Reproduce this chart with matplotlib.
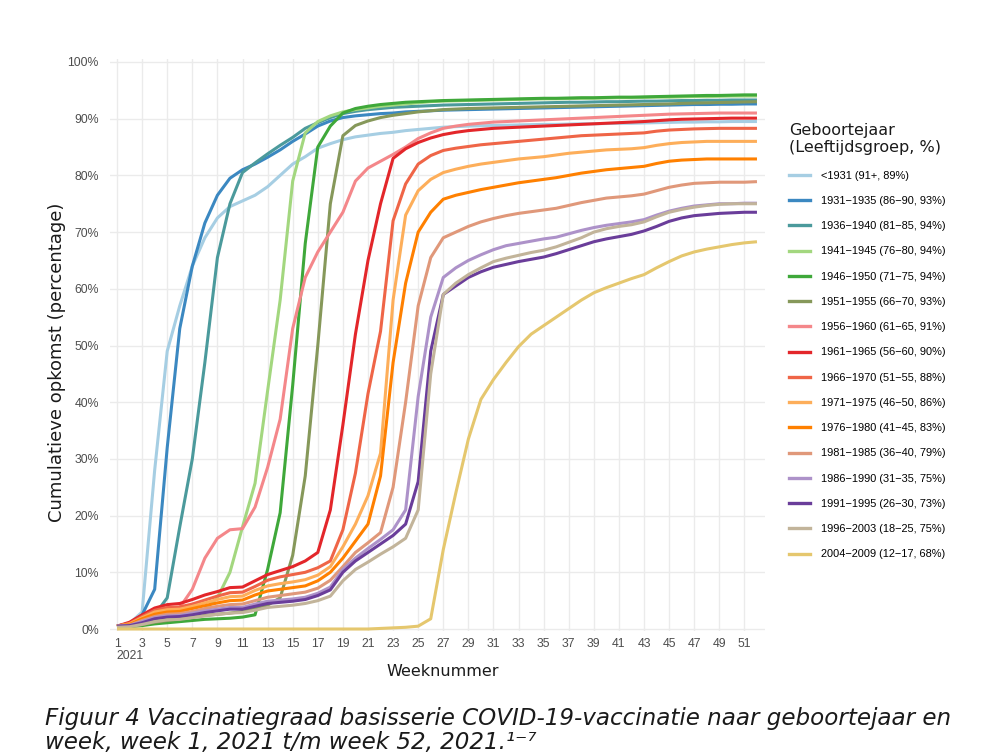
import matplotlib
matplotlib.use("Agg")
import matplotlib.pyplot as plt
from matplotlib.lines import Line2D

weeks = list(range(1, 53))

labels = [
    "<1931 (91+, 89%)",
    "1931\u22121935 (86\u221290, 93%)",
    "1936\u22121940 (81\u221285, 94%)",
    "1941\u22121945 (76\u221280, 94%)",
    "1946\u22121950 (71\u221275, 94%)",
    "1951\u22121955 (66\u221270, 93%)",
    "1956\u22121960 (61\u221265, 91%)",
    "1961\u22121965 (56\u221260, 90%)",
    "1966\u22121970 (51\u221255, 88%)",
    "1971\u22121975 (46\u221250, 86%)",
    "1976\u22121980 (41\u221245, 83%)",
    "1981\u22121985 (36\u221240, 79%)",
    "1986\u22121990 (31\u221235, 75%)",
    "1991\u22121995 (26\u221230, 73%)",
    "1996\u22122003 (18\u221225, 75%)",
    "2004\u22122009 (12\u221217, 68%)",
]

colors = ["#a6cee3", "#3b88c1", "#4b9a9c", "#a3d77f", "#3fa83a", "#86985a",
          "#f4878a", "#e3262a", "#ef6547", "#fdae5a", "#ff8000", "#e0987a",
          "#ad92c9", "#6a3d9a", "#c2b49a", "#e5c76e"]

v_pre1931 = [0.5, 1.0, 3.0, 28, 49, 57, 64, 69, 72.5, 74.5, 75.5, 76.5, 78, 80, 82, 83.3,
             84.8, 85.6, 86.3, 86.8, 87.1, 87.4, 87.6, 87.9, 88.1, 88.3, 88.5, 88.6, 88.7,
             88.75, 88.8, 88.85, 88.9, 88.95, 89.0, 89.0, 89.05, 89.1, 89.1, 89.15, 89.2,
             89.2, 89.25, 89.3, 89.35, 89.4, 89.4, 89.45, 89.45, 89.5, 89.5, 89.5]
v_1931 = [0.5, 1.0, 2.5, 7, 32, 53, 64, 71.6, 76.5, 79.5, 81, 82, 83.2, 84.5, 86, 87.3,
          88.7, 89.6, 90.2, 90.5, 90.7, 90.9, 91.0, 91.2, 91.3, 91.4, 91.5, 91.55, 91.6,
          91.65, 91.7, 91.75, 91.8, 91.85, 91.9, 91.95, 92.0, 92.05, 92.1, 92.15, 92.2,
          92.25, 92.3, 92.35, 92.4, 92.45, 92.5, 92.5, 92.55, 92.55, 92.6, 92.6]
v_1936 = [0.5, 0.8, 1.5, 2.5, 5.5, 18, 30, 47, 65.5, 75, 80.5, 82.2, 83.8, 85.3, 86.7, 88.3,
          89.3, 90.2, 90.9, 91.3, 91.6, 91.8, 92.0, 92.1, 92.2, 92.3, 92.4, 92.45, 92.5,
          92.55, 92.6, 92.65, 92.7, 92.75, 92.8, 92.85, 92.9, 92.9, 92.95, 93.0, 93.0,
          93.05, 93.1, 93.1, 93.15, 93.2, 93.2, 93.25, 93.25, 93.3, 93.3, 93.3]
v_1941 = [0.3, 0.5, 1.0, 1.5, 2.0, 2.4, 2.9, 3.5, 5.5, 10, 18, 25.7, 42, 58, 79, 87.5,
          89.5, 90.5, 91.2, 91.6, 91.9, 92.2, 92.4, 92.6, 92.8, 93.0, 93.1, 93.15, 93.2,
          93.25, 93.3, 93.35, 93.4, 93.45, 93.5, 93.5, 93.55, 93.6, 93.6, 93.65, 93.7,
          93.7, 93.75, 93.8, 93.8, 93.85, 93.9, 93.9, 93.95, 94.0, 94.0, 94.0]
v_1946 = [0.3, 0.4, 0.6, 0.9, 1.1, 1.3, 1.5, 1.7, 1.8, 1.9, 2.1, 2.5, 10.5, 20.5, 43, 68,
          85, 88.7, 91.0, 91.8, 92.2, 92.5, 92.7, 92.9, 93.0, 93.1, 93.2, 93.25, 93.3,
          93.35, 93.4, 93.45, 93.5, 93.55, 93.6, 93.6, 93.65, 93.7, 93.7, 93.75, 93.8,
          93.8, 93.85, 93.9, 93.95, 94.0, 94.05, 94.1, 94.1, 94.15, 94.2, 94.2]
v_1951 = [0.3, 0.5, 0.8, 1.2, 1.5, 1.8, 2.1, 2.4, 2.6, 2.8, 3.1, 3.8, 4.2, 5.5, 13, 27,
          50, 75, 87, 88.8, 89.6, 90.2, 90.6, 90.9, 91.2, 91.4, 91.6, 91.7, 91.8, 91.85,
          91.9, 91.95, 92.0, 92.05, 92.1, 92.15, 92.2, 92.25, 92.3, 92.35, 92.4, 92.45,
          92.5, 92.55, 92.6, 92.7, 92.75, 92.8, 92.85, 92.9, 92.95, 93.0]
v_1956 = [0.5, 1.0, 2.0, 3.0, 3.3, 3.8, 7, 12.5, 16, 17.5, 17.7, 21.5, 28.5, 37, 53, 62,
          66.5, 70, 73.5, 79, 81.3, 82.5, 83.7, 85, 86.5, 87.5, 88.3, 88.7, 89.0, 89.2,
          89.4, 89.5, 89.6, 89.7, 89.8, 89.9, 90.0, 90.1, 90.2, 90.3, 90.4, 90.5, 90.6,
          90.7, 90.8, 90.85, 90.9, 90.95, 91.0, 91.0, 91.0, 91.0]
v_1961 = [0.5, 1.2, 2.5, 3.7, 4.3, 4.5, 5.2, 6.0, 6.6, 7.3, 7.4, 8.5, 9.6, 10.3, 11.0, 12.0,
          13.5, 21, 36, 52, 65, 75, 83, 84.7, 85.8, 86.6, 87.2, 87.6, 87.9, 88.1, 88.3,
          88.4, 88.5, 88.6, 88.7, 88.8, 88.9, 89.0, 89.1, 89.2, 89.3, 89.4, 89.5, 89.65,
          89.8, 89.9, 89.95, 90.0, 90.05, 90.1, 90.1, 90.1]
v_1966 = [0.5, 1.0, 2.2, 3.3, 3.8, 3.9, 4.4, 5.1, 5.8, 6.4, 6.5, 7.5, 8.6, 9.2, 9.6, 10.0,
          10.8, 12, 17.5, 27.5, 41.5, 52.5, 72, 78.5, 82, 83.5, 84.4, 84.8, 85.1, 85.4,
          85.6, 85.8, 86.0, 86.2, 86.4, 86.6, 86.8, 87.0, 87.1, 87.2, 87.3, 87.4, 87.5,
          87.8, 88.0, 88.1, 88.2, 88.25, 88.3, 88.3, 88.3, 88.3]
v_1971 = [0.5, 0.9, 2.0, 3.0, 3.4, 3.5, 4.0, 4.6, 5.2, 5.7, 5.8, 6.8, 7.6, 8.0, 8.3, 8.7,
          9.5, 11, 14.5, 18.5, 23.5, 31, 58, 73, 77.3, 79.3, 80.5, 81.1, 81.6, 82.0, 82.3,
          82.6, 82.9, 83.1, 83.3, 83.6, 83.9, 84.1, 84.3, 84.5, 84.6, 84.7, 84.9, 85.3,
          85.6, 85.8, 85.9, 86.0, 86.0, 86.0, 86.0, 86.0]
v_1976 = [0.5, 0.8, 1.8, 2.6, 3.0, 3.1, 3.6, 4.1, 4.6, 5.0, 5.1, 6.0, 6.7, 7.0, 7.3, 7.6,
          8.5, 10, 12.5, 15.5, 18.5, 27, 47, 61, 70, 73.5, 75.8, 76.5, 77.0, 77.5, 77.9,
          78.3, 78.7, 79.0, 79.3, 79.6, 80.0, 80.4, 80.7, 81.0, 81.2, 81.4, 81.6, 82.1,
          82.5, 82.7, 82.8, 82.9, 82.9, 82.9, 82.9, 82.9]
v_1981 = [0.5, 0.7, 1.5, 2.2, 2.6, 2.7, 3.1, 3.6, 4.0, 4.3, 4.4, 5.0, 5.6, 5.9, 6.2, 6.5,
          7.2, 8.6, 11, 13.5, 15.2, 17, 25, 40, 57, 65.5, 69, 70, 71, 71.8, 72.4, 72.9,
          73.3, 73.6, 73.9, 74.2, 74.7, 75.2, 75.6, 76.0, 76.2, 76.4, 76.7, 77.3, 77.9,
          78.3, 78.6, 78.7, 78.8, 78.8, 78.8, 78.9]
v_1986 = [0.5, 0.6, 1.3, 2.0, 2.3, 2.4, 2.8, 3.2, 3.5, 3.8, 3.8, 4.4, 4.9, 5.1, 5.3, 5.6,
          6.3, 7.4, 10.5, 12.5, 14.2, 15.8, 17.5, 21, 41, 55, 62, 63.7, 65, 66, 66.9, 67.6,
          68.0, 68.4, 68.8, 69.1, 69.7, 70.3, 70.8, 71.2, 71.5, 71.8, 72.2, 73.0, 73.7,
          74.2, 74.6, 74.8, 75.0, 75.0, 75.1, 75.1]
v_1991 = [0.5, 0.6, 1.1, 1.8, 2.1, 2.2, 2.5, 2.9, 3.2, 3.5, 3.5, 4.0, 4.5, 4.7, 4.9, 5.2,
          5.9, 6.9, 10, 12, 13.5, 15, 16.5, 18.5, 26, 49, 59, 60.5, 62, 63, 63.8, 64.3,
          64.8, 65.2, 65.6, 66.2, 66.9, 67.6, 68.3, 68.8, 69.2, 69.6, 70.2, 71.0, 71.9,
          72.5, 72.9, 73.1, 73.3, 73.4, 73.5, 73.5]
v_1996 = [0.3, 0.4, 0.8, 1.3, 1.6, 1.7, 2.0, 2.3, 2.6, 2.8, 2.9, 3.3, 3.8, 4.0, 4.2, 4.5,
          5.0, 5.8, 8.5, 10.5, 11.8, 13.2, 14.5, 16, 21, 45, 59, 61, 62.5, 63.7, 64.8, 65.4,
          65.9, 66.4, 66.8, 67.4, 68.2, 69.0, 70.0, 70.6, 71.0, 71.3, 71.8, 72.7, 73.5,
          74.0, 74.4, 74.7, 74.9, 75.0, 75.0, 75.0]
v_2004 = [0, 0, 0, 0, 0, 0, 0, 0, 0, 0, 0, 0, 0, 0, 0, 0, 0, 0, 0, 0, 0, 0.1, 0.2, 0.3,
          0.5, 1.8, 14, 24, 33.5, 40.5, 44, 47, 49.8, 52, 53.5, 55, 56.5, 58, 59.3, 60.2,
          61, 61.8, 62.5, 63.7, 64.8, 65.8, 66.5, 67.0, 67.4, 67.8, 68.1, 68.3]

series = [v_pre1931, v_1931, v_1936, v_1941, v_1946, v_1951, v_1956, v_1961,
          v_1966, v_1971, v_1976, v_1981, v_1986, v_1991, v_1996, v_2004]

x_ticks = list(range(1, 52, 2))
y_ticks = list(range(0, 101, 10))

W, H = 991, 756
fig = plt.figure(figsize=(W / 100, H / 100), dpi=100)
fig.patch.set_facecolor("white")

# panel: x 110..765 px, y 0% at 629 px, 100% at 62 px
ppp = 5.67
y_lo, y_hi = -0.4, 100.6
top_px = 62 - (y_hi - 100) * ppp
bot_px = 629 + (0 - y_lo) * ppp
ax = fig.add_axes([110 / W, 1 - bot_px / H, (765 - 110) / W, (bot_px - top_px) / H])

for vals, col in zip(series, colors):
    ax.plot(weeks, vals, color=col, lw=2.2, solid_capstyle="butt", solid_joinstyle="round")

ax.set_xlim(0.44, 52.64)
ax.set_ylim(y_lo, y_hi)
ax.set_xticks(x_ticks)
ax.set_xticklabels([str(t) for t in x_ticks])
ax.set_yticks(y_ticks)
ax.set_yticklabels([f"{t}%" for t in y_ticks])
ax.grid(True, color="#ebebeb", lw=1.0)
ax.set_axisbelow(True)
for s in ax.spines.values():
    s.set_visible(False)
ax.tick_params(axis="x", length=0, labelsize=8.8, labelcolor="#4d4d4d", pad=5)
ax.tick_params(axis="y", length=0, labelsize=8.8, labelcolor="#4d4d4d", pad=8)
for t in ax.get_xticklabels() + ax.get_yticklabels():
    t.set_fontfamily("Liberation Sans")

fig.text(116 / W, 1 - 656 / H, "2021", ha="left", va="center", fontsize=8.8,
         color="#4d4d4d", family="Liberation Sans")
fig.text(443 / W, 1 - 672 / H, "Weeknummer", ha="center", va="center", fontsize=11.5,
         color="#1a1a1a")
fig.text(57 / W, 1 - 362 / H, "Cumulatieve opkomst (percentage)", ha="center", va="center",
         rotation=90, fontsize=13, color="#1a1a1a")

handles = [Line2D([0], [0], color=c, lw=2.4) for c in colors]
leg = ax.legend(handles, labels, loc="upper left", bbox_to_anchor=(789 / W, 1 - 123 / H),
                bbox_transform=fig.transFigure, frameon=False,
                title="Geboortejaar\n(Leeftijdsgroep, %)", alignment="left",
                prop={"family": "Liberation Sans", "size": 7.9},
                title_fontproperties={"size": 11.5},
                handlelength=1.95, handletextpad=1.0, labelspacing=1.39,
                borderpad=0, borderaxespad=0)
leg.get_title().set_color("#1a1a1a")

fig.text(45 / W, 1 - 718 / H,
         "Figuur 4 Vaccinatiegraad basisserie COVID-19-vaccinatie naar geboortejaar en",
         ha="left", va="center", fontsize=16.6, style="italic", color="#1a1a1a")
fig.text(45 / W, 1 - 743 / H, "week, week 1, 2021 t/m week 52, 2021.\u00b9\u207b\u2077",
         ha="left", va="center", fontsize=16.6, style="italic", color="#1a1a1a")

fig.savefig("out.png", dpi=100, facecolor="white")
